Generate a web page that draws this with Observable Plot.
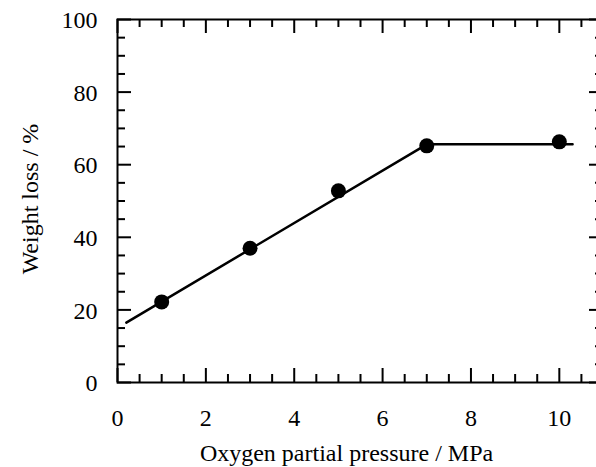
<!DOCTYPE html>
<html>
<head>
<meta charset="utf-8">
<script src="https://cdn.jsdelivr.net/npm/d3@7"></script>
<script src="https://cdn.jsdelivr.net/npm/@observablehq/plot@0.6"></script>
<style>
  html, body { margin: 0; padding: 0; background: white; }
  #chart { width: 596px; height: 467px; overflow: hidden; }
</style>
</head>
<body>
<div id="chart"></div>
<script>
// Measured points
const pressure = [1, 3, 5, 7, 10];
const weightLoss = [22.2, 37.0, 52.8, 65.2, 66.3];

// Fitted trend line (drawn in the figure)
const fitX = [0.2, 7, 10.3];
const fitY = [16.5, 65.6, 65.6];

// Ticks and labels
const xMajor = [0, 2, 4, 6, 8, 10];
const xMinor = [0.5, 1, 1.5, 2.5, 3, 3.5, 4.5, 5, 5.5, 6.5, 7, 7.5, 8.5, 9, 9.5, 10.5];
const yMajor = [0, 20, 40, 60, 80, 100];
const yMinor = [5, 10, 15, 25, 30, 35, 45, 50, 55, 65, 70, 75, 85, 90, 95];
const xTitle = "Oxygen partial pressure / MPa";
const yTitle = "Weight loss / %";

const points = pressure.map((p, i) => ({x: p, y: weightLoss[i]}));
const fit = fitX.map((p, i) => ({x: p, y: fitY[i]}));

const W = 596, H = 467;
const mL = 117, mT = 19, mB = 85, mR = -7;
const plotH = H - mT - mB;
const plotW = W - mL - mR;
const font = "'Liberation Serif', 'Times New Roman', serif";
const fs = 24;

const chart = Plot.plot({
  width: W,
  height: H,
  marginLeft: mL,
  marginTop: mT,
  marginBottom: mB,
  marginRight: mR,
  style: {fontFamily: font, background: "white"},
  x: {domain: [0, 11], axis: null},
  y: {domain: [0, 100], axis: null},
  marks: [
    // x ticks bottom & top
    Plot.tickX(xMajor, {x: d => d, stroke: "black", strokeWidth: 2, insetTop: plotH - 14}),
    Plot.tickX(xMinor, {x: d => d, stroke: "black", strokeWidth: 2, insetTop: plotH - 8}),
    Plot.tickX(xMajor, {x: d => d, stroke: "black", strokeWidth: 2, insetBottom: plotH - 14}),
    Plot.tickX(xMinor, {x: d => d, stroke: "black", strokeWidth: 2, insetBottom: plotH - 8}),
    // y ticks left & right
    Plot.tickY(yMajor, {y: d => d, stroke: "black", strokeWidth: 2, insetRight: plotW - 14}),
    Plot.tickY(yMinor, {y: d => d, stroke: "black", strokeWidth: 2, insetRight: plotW - 8}),
    Plot.tickY(yMajor, {y: d => d, stroke: "black", strokeWidth: 2, insetLeft: plotW - 14}),
    Plot.tickY(yMinor, {y: d => d, stroke: "black", strokeWidth: 2, insetLeft: plotW - 8}),
    Plot.frame({stroke: "black", strokeWidth: 2}),
    // tick labels
    Plot.text(xMajor, {x: d => d, text: d => String(d), frameAnchor: "bottom", lineAnchor: "middle", dy: 36, fontSize: fs, fill: "black"}),
    Plot.text(yMajor, {y: d => d, text: d => String(d), frameAnchor: "left", textAnchor: "end", lineAnchor: "middle", dx: -20, dy: 1, fontSize: fs, fill: "black"}),
    // axis titles
    Plot.text([xTitle], {frameAnchor: "bottom", textAnchor: "middle", lineAnchor: "middle", text: d => d, dx: -14, dy: 71, fontSize: fs, fill: "black"}),
    Plot.text([yTitle], {frameAnchor: "left", textAnchor: "middle", lineAnchor: "middle", rotate: -90, text: d => d, dx: -87, dy: -2, fontSize: fs, fill: "black"}),
    // data
    Plot.line(fit, {x: "x", y: "y", stroke: "black", strokeWidth: 2.5}),
    Plot.dot(points, {x: "x", y: "y", r: 7.5, fill: "black", stroke: "none"})
  ]
});
document.getElementById("chart").appendChild(chart);
</script>
</body>
</html>
